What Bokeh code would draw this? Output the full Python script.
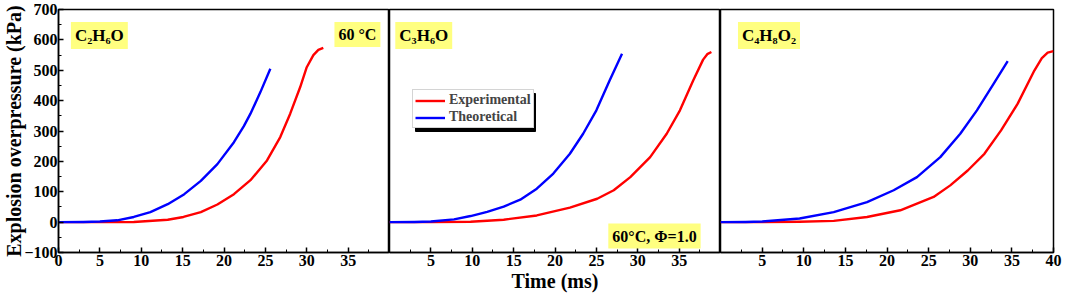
from bokeh.plotting import figure
from bokeh.models import Label, Legend, LegendItem, FixedTicker, Range1d, BoxAnnotation
from bokeh.layouts import row
from bokeh.embed import file_html
from bokeh.resources import INLINE

FONT = "Liberation Serif"

# ---- data (time in ms, overpressure in kPa) ----
c2_exp_t = [0, 5, 9.1, 13.2, 15.1, 17.2, 19.2, 21.2, 23.2, 25.2, 26.8, 28.0, 29.2, 30.0, 30.8, 31.4, 32.0]
c2_exp_p = [0, 0, 0.5, 8, 17, 33, 58, 92, 138, 203, 280, 357, 444, 510, 550, 567, 574]
c2_th_t = [0, 3, 5, 7.1, 9.1, 11.1, 13.2, 15.2, 17.2, 19.2, 21.2, 22.4, 23.2, 24.4, 25.6]
c2_th_p = [0, 0.5, 2, 6, 17, 33, 59, 92, 136, 191, 263, 316, 357, 428, 505]

c3_exp_t = [0, 5, 9.8, 13.8, 17.8, 21.8, 25.1, 27.1, 29.1, 31.5, 33.5, 35.1, 36.7, 37.9, 38.4, 38.9]
c3_exp_p = [0, 0, 1, 8, 22, 48, 77, 105, 148, 214, 291, 368, 466, 535, 553, 560]
c3_th_t = [0, 3, 5, 7.8, 9.8, 11.8, 13.8, 15.8, 17.8, 19.8, 21.8, 23.4, 25.0, 26.6, 28.1]
c3_th_p = [0, 0.5, 2, 9, 20, 34, 51, 74, 110, 160, 225, 291, 368, 466, 554]

c4_exp_t = [0, 5, 9.5, 13.6, 17.6, 21.6, 25.6, 27.6, 29.7, 31.7, 33.7, 35.7, 37.7, 38.6, 39.3, 40.0]
c4_exp_p = [0, 0, 1, 4, 17, 39, 83, 121, 170, 225, 302, 390, 499, 540, 558, 563]
c4_th_t = [0, 3, 5, 9.5, 13.6, 17.6, 20.8, 23.6, 26.4, 28.8, 30.8, 32.8, 34.5]
c4_th_p = [0, 0.5, 2, 12, 33, 66, 105, 148, 214, 291, 368, 455, 530]

y_ticks = [-100, 0, 100, 200, 300, 400, 500, 600, 700]
y_minor = [-50, 50, 150, 250, 350, 450, 550, 650]
x_ticks_1 = [0, 5, 10, 15, 20, 25, 30, 35]
x_ticks_2 = [5, 10, 15, 20, 25, 30, 35]
x_ticks_3 = [5, 10, 15, 20, 25, 30, 35, 40]
x_minor = [2.5, 7.5, 12.5, 17.5, 22.5, 27.5, 32.5, 37.5]

panel_names = ["C\u2082H\u2086O", "C\u2083H\u2086O", "C\u2084H\u2088O\u2082"]
series_names = ["Experimental", "Theoretical"]
RED = "#FF0000"
BLUE = "#0000FF"
YELLOW = "#FFFF80"

H = 296
TOP = 9
BOTTOM = 44

yr = Range1d(-100, 700)


def style_axis(ax, ticks, minor):
    ax.ticker = FixedTicker(ticks=ticks, minor_ticks=minor)
    ax.axis_line_color = "black"
    ax.axis_line_width = 1.5
    ax.major_tick_in = 5
    ax.major_tick_out = 0
    ax.minor_tick_in = 3
    ax.minor_tick_out = 0
    ax.major_tick_line_width = 1.5
    ax.minor_tick_line_width = 1
    ax.major_label_text_font = FONT
    ax.major_label_text_font_style = "bold"
    ax.major_label_text_font_size = "16px"
    ax.major_label_text_color = "black"
    ax.major_label_standoff = 2
    ax.axis_label_text_font = FONT
    ax.axis_label_text_font_style = "bold"
    ax.axis_label_text_color = "black"


def make_fig(width, has_y, ticks, mbl, mbr):
    p = figure(width=width, height=H, x_range=Range1d(0, 40), y_range=yr,
               output_backend="svg", toolbar_location=None,
               min_border_left=mbl, min_border_right=mbr,
               min_border_top=TOP, min_border_bottom=BOTTOM,
               y_axis_location="left" if has_y else None)
    p.grid.visible = False
    p.outline_line_color = "black"
    p.outline_line_width = 1.5
    p.background_fill_color = "white"
    p.border_fill_color = "white"
    style_axis(p.xaxis[0], ticks, x_minor)
    if has_y:
        style_axis(p.yaxis[0], y_ticks, y_minor)
        p.yaxis[0].axis_label = "Explosion overpressure (kPa)"
        p.yaxis[0].axis_label_text_font_size = "20px"
        p.yaxis[0].axis_label_standoff = -4
        p.yaxis[0].major_label_standoff = 1
    return p


def tag(p, x, y, text, size, align="left", baseline="top"):
    p.add_layout(Label(x=x, y=y, text=text, text_font=FONT, text_font_style="bold",
                       text_font_size=size, text_color="black", text_align=align,
                       text_baseline=baseline, background_fill_color=YELLOW,
                       padding=4))


p1 = make_fig(389, True, x_ticks_1, 57, 0)
p2 = make_fig(331, False, x_ticks_2, 0, 0)
p3 = make_fig(343, False, x_ticks_3, 0, 10)

p2.xaxis[0].axis_label = "Time (ms)"
p2.xaxis[0].axis_label_text_font_size = "20px"
p2.xaxis[0].axis_label_standoff = 1

data = [(p1, c2_exp_t, c2_exp_p, c2_th_t, c2_th_p),
        (p2, c3_exp_t, c3_exp_p, c3_th_t, c3_th_p),
        (p3, c4_exp_t, c4_exp_p, c4_th_t, c4_th_p)]
renderers = []
for p, et, ep, tt, tp in data:
    r_exp = p.line(et, ep, line_color=RED, line_width=2.4, line_join="round")
    r_th = p.line(tt, tp, line_color=BLUE, line_width=2.4, line_join="round")
    renderers.append((r_exp, r_th))

tag(p1, 1.5, 659, panel_names[0], "17px")
tag(p1, 38.9, 659, "60 \u00b0C", "16px", align="right")
tag(p2, 0.7, 659, panel_names[1], "17px")
tag(p2, 37.6, -87, "60\u00b0C, \u03a6=1.0", "16px", align="right", baseline="bottom")
tag(p3, 2.1, 659, panel_names[2], "17px")

# legend with drop shadow (panel 2)
LX, LY, LW, LH = 23, 124, 120, 38
SH = 3
p2.add_layout(BoxAnnotation(left=LX + SH, right=LX + LW + SH, bottom=LY - SH, top=LY + LH - SH,
                            left_units="screen", right_units="screen",
                            bottom_units="screen", top_units="screen",
                            fill_color="black", fill_alpha=1, line_color="black", line_alpha=1))
legend = Legend(items=[LegendItem(label=series_names[0], renderers=[renderers[1][0]]),
                       LegendItem(label=series_names[1], renderers=[renderers[1][1]])],
                location=(LX, LY), label_text_font=FONT, label_text_font_style="bold",
                label_text_font_size="14px", glyph_width=30, glyph_height=15,
                label_height=15, label_standoff=4, padding=2, spacing=1, margin=0,
                border_line_color="#AAAAAA", border_line_width=1,
                background_fill_color="white", background_fill_alpha=1)
p2.add_layout(legend, "center")

layout = row(p1, p2, p3)
open("out.html", "w").write(file_html(layout, INLINE))
